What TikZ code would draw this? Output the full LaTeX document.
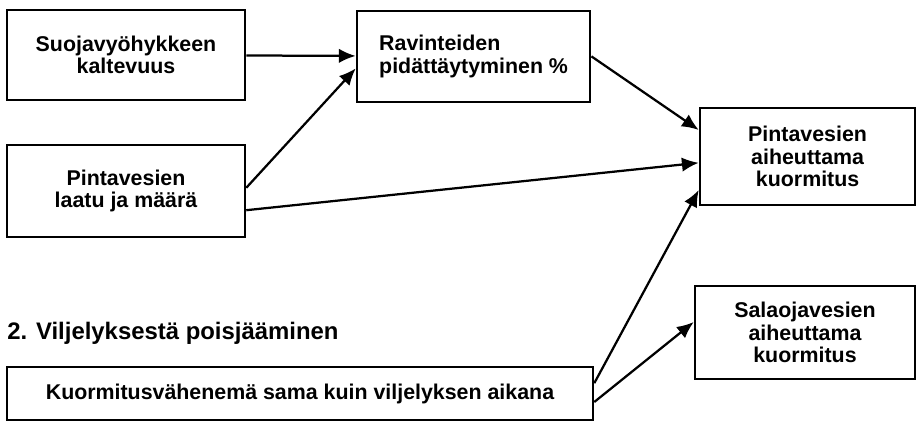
\documentclass[tikz,border=0pt]{standalone}
\usepackage{fontspec}
\setmainfont{Liberation Sans}
\usepackage{tikz}
\usetikzlibrary{arrows.meta,positioning}

\begin{document}
\begin{tikzpicture}[
  box/.style={draw, line width=1.8pt, minimum width=5.95cm, minimum height=2.25cm,
              font=\fontsize{15.2}{15.8}\selectfont\bfseries, align=center, inner sep=2pt},
  link/.style={line width=1.6pt, -{Latex[length=4.2mm,width=3.6mm]}},
]
\useasboundingbox (0,0) rectangle (22.95,-10.575);

% vasen sarake
\node[box] (slope) at (3.15,-1.375) {Suojavyöhykkeen\\kaltevuus};
\node[box, minimum height=2.3cm] (water) at (3.15,-4.775) {Pintavesien\\laatu ja määrä};

% keskellä
\node[box, minimum width=5.83cm, minimum height=2.28cm, align=left] (retention) at (11.84,-1.41)
  {Ravinteiden\\pidättäytyminen \%};

% oikea sarake
\node[box, minimum width=5.38cm, minimum height=2.43cm] (surface) at (20.19,-3.91)
  {Pintavesien\\aiheuttama\\kuormitus};
\node[box, minimum width=5.5cm, minimum height=2.33cm] (drain) at (20.125,-8.31)
  {Salaojavesien\\aiheuttama\\kuormitus};

% viljelystä poisjääminen
\node[anchor=base west, inner sep=0pt, font=\fontsize{17}{19}\selectfont\bfseries] (phase2)
  at (0.175,-8.5) {2. Viljelyksestä poisjääminen};
\node[box, minimum width=14.65cm, minimum height=1.33cm] (reduction) at (7.5,-9.84)
  {Kuormitusvähenemä sama kuin viljelyksen aikana};

% nuolet
\draw[link] (slope) -- (retention);
\draw[link] ([yshift=0.08cm]water.east) -- ([yshift=-0.3cm]retention.west);
\draw[link] ([yshift=-0.48cm]water.east) -- ([yshift=-0.16cm]surface.west);
\draw[link] (retention.east) -- ([yshift=0.66cm]surface.west);
\draw[link] ([yshift=0.26cm]reduction.east) -- ([yshift=-0.84cm]surface.west);
\draw[link] ([yshift=-0.21cm]reduction.east) -- ([yshift=0.26cm]drain.west);

\end{tikzpicture}
\end{document}
